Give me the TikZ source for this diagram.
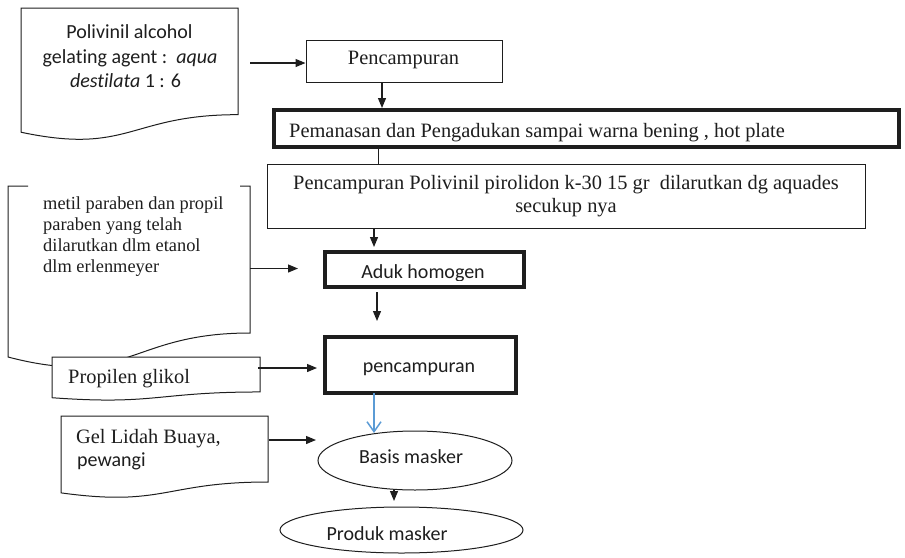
\documentclass[tikz,border=0pt]{standalone}
\usepackage{fontspec}
\setmainfont{Liberation Serif}
\newfontfamily\calfont{Carlito}[RawFeature={-liga;-clig;-dlig;-calt}]
\usetikzlibrary{arrows.meta,shapes.geometric}
\definecolor{inkc}{HTML}{1E1E1E}
\definecolor{bluec}{HTML}{5B9BD5}
\newcommand\wdocpath[4]{% x0,y0,x1,h
  (#1,#2) -- (#3,#2) -- (#3,{#2+0.802*#4})
  .. controls ({(#1+#3)/2},{#2+0.802*#4}) and ({(#1+#3)/2},{#2+1.107*#4}) ..
  (#1,{#2+0.934*#4}) -- cycle}
\begin{document}
\begin{tikzpicture}[x=1pt,y=-1pt,
  thinbox/.style={draw=inkc, line width=1pt, inner sep=0pt, fill=white},
  thickbox/.style={draw=inkc, line width=4pt, inner sep=0pt, fill=white},
  oval/.style={ellipse, draw=inkc, line width=1pt, inner sep=0pt, fill=white},
  thinline/.style={draw=inkc, line width=1pt},
  serif/.style={font=\fontsize{20.4}{24}\selectfont, inner sep=0pt, text=inkc},
  serifs/.style={font=\fontsize{18.4}{21}\selectfont, inner sep=0pt, text=inkc},
  sans/.style={font=\calfont\fontsize{20}{24}\selectfont, inner sep=0pt, text=inkc},
  arr/.style={draw=inkc, line width=1.2pt, -{Triangle[length=10pt,width=8pt]}},
  bluearr/.style={draw=bluec, line width=1.5pt, -{Straight Barb[length=10pt,width=14pt]}},
]
\useasboundingbox (0,0) rectangle (905,557);

% document shapes
\draw[thinline, fill=white] \wdocpath{21}{8}{238}{133};
\coordinate (d1) at (129.5,60);
\draw[thinline, line join=miter] (28,186) -- (8,186) -- (8,357)
  .. controls (129,388.6) and (129,333) .. (250,333) -- (250,186) -- (240,186);
\coordinate (d2) at (250,268.5);
\draw[thinline, fill=white] \wdocpath{52}{357}{260}{43.6};
\coordinate (d3) at (258,368);
\draw[thinline, fill=white] \wdocpath{61}{416}{268}{82.3};
\coordinate (d4) at (269,440);

% boxes
\node[thinbox, minimum width=196pt, minimum height=42pt] (p1) at (404,61) {};
\node[thickbox, minimum width=625pt, minimum height=37pt] (pm) at (586.5,128.5) {};
\node[thinbox, minimum width=598pt, minimum height=64pt] (pv) at (566,196) {};
\node[thickbox, minimum width=199pt, minimum height=35pt] (ad) at (424.3,269.5) {};
\node[thickbox, minimum width=191pt, minimum height=55.5pt] (pc) at (420.5,364.75) {};
\node[oval, minimum width=194pt, minimum height=59pt] (ba) at (415,460.5) {};
\node[oval, minimum width=243pt, minimum height=46pt] (pr) at (401.5,530) {};

% texts
\node[sans, anchor=base] (t1a) at (129.5,38) {Polivinil alcohol};
\node[sans, anchor=base] (t1b) at (130,63) {gelat\kern0pt ing agent :\ \ \textit{aqua}};
\node[sans, anchor=base] (t1c) at (125.5,87) {\textit{dest\kern0pt ilata} 1 : 6};
\node[serif, anchor=base] (t2) at (403.5,64) {Pencampuran};
\node[serif, anchor=base west] (t3) at (289,137) {Pemanasan dan Pengadukan sampai warna bening , hot plate};
\node[serif, anchor=base] (t4a) at (566,189) {Pencampuran Polivinil pirolidon k-30 15 gr\ \ dilarutkan dg aquades};
\node[serif, anchor=base] (t4b) at (566,212) {secukup nya};
\node[serifs, anchor=base west] (t5a) at (43,209) {metil paraben dan propil};
\node[serifs, anchor=base west] (t5b) at (43,230) {paraben yang telah};
\node[serifs, anchor=base west] (t5c) at (43,251) {dilarutkan dlm etanol};
\node[serifs, anchor=base west] (t5d) at (43,272) {dlm erlenmeyer};
\node[serif, anchor=base west] (t6) at (68,383) {Propilen glikol};
\node[serif, anchor=base west] (t7a) at (76,443) {Gel Lidah Buaya,};
\node[sans, anchor=base west] (t7b) at (77,466) {pewangi};
\begin{scope}
  \clip (327,254) rectangle (522,280);
  \node[sans, anchor=base] (t8) at (423,278) {Aduk homogen};
\end{scope}
\node[sans, anchor=base] (t9) at (419,372) {pencampuran};
\node[sans, anchor=base] (t10) at (411,463) {Basis masker};
\node[sans, anchor=base] (t11) at (387,540) {Produk masker};

% connectors
\coordinate (a1) at (250,63);
\draw[arr] (a1) -- (a1 -| p1.west);
\coordinate (a2) at (382,0);
\draw[arr] (a2 |- p1.south) -- (a2 |- pm.north);
\coordinate (a3) at (378,0);
\draw[thinline] (a3 |- pm.south) -- (a3 |- pv.north);
\coordinate (a4) at (374,247);
\draw[arr] (a4 |- pv.south) -- (a4);
\coordinate (a5s) at (377,292);
\coordinate (a5e) at (377,321);
\draw[arr] (a5s) -- (a5e);
\coordinate (a6) at (298,268.5);
\draw[arr] (d2) -- (a6);
\coordinate (a7) at (317,368);
\draw[arr] (d3) -- (a7);
\coordinate (a8s) at (374,393);
\coordinate (a8e) at (374,433);
\draw[bluearr] (a8s) -- (a8e);
\coordinate (a9) at (316,440);
\draw[arr] (d4) -- (a9);
\coordinate (a10s) at (394,489);
\coordinate (a10e) at (394,501);
\draw[arr] (a10s) -- (a10e);
\end{tikzpicture}
\end{document}
